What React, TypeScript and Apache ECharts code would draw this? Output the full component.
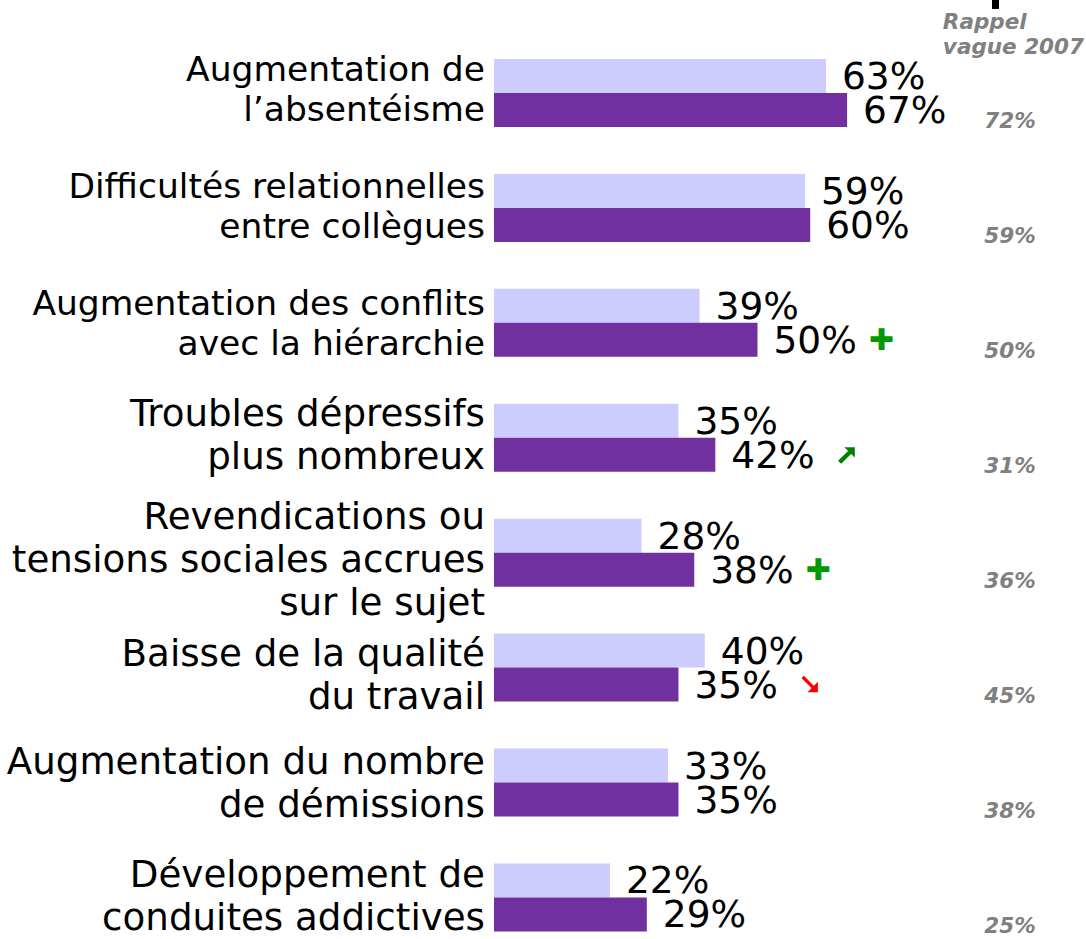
import React, { useEffect, useRef } from "react";
import * as echarts from "echarts";

const categories = [
  "Augmentation de\nl’absentéisme",
  "Difficultés relationnelles\nentre collègues",
  "Augmentation des conflits\navec la hiérarchie",
  "Troubles dépressifs\nplus nombreux",
  "Revendications ou\ntensions sociales accrues\nsur le sujet",
  "Baisse de la qualité\ndu travail",
  "Augmentation du nombre\nde démissions",
  "Développement de\nconduites addictives",
];
const previousWave = [63, 59, 39, 35, 28, 40, 33, 22];
const currentWave = [67, 60, 50, 42, 38, 35, 35, 29];
const rappel2007 = [72, 59, 50, 31, 36, 45, 38, 25];
const trendMarks = ["", "", "plus", "up", "plus", "down", "", ""];

const FONT = "DejaVu Sans, Verdana, sans-serif";

const svgUrl = (s: string) => "data:image/svg+xml;charset=utf-8," + encodeURIComponent(s);
const ARROW_UP = svgUrl(
  '<svg xmlns="http://www.w3.org/2000/svg" width="20" height="20" viewBox="0 0 20 20">' +
    '<line x1="2" y1="18" x2="13" y2="7" stroke="#008000" stroke-width="4.5"/>' +
    '<polygon points="7,2 18,2 18,13" fill="#008000"/></svg>'
);
const ARROW_DOWN = svgUrl(
  '<svg xmlns="http://www.w3.org/2000/svg" width="20" height="20" viewBox="0 0 20 20">' +
    '<line x1="2" y1="2" x2="13" y2="13" stroke="#ff0000" stroke-width="3.5"/>' +
    '<polygon points="18,7 18,18 7,18" fill="#ff0000"/></svg>'
);

// label styling (not data): larger text for some categories, small vertical nudges (px)
const LARGE_LABELS = new Set([3, 4, 5, 6, 7]);
const LABEL_NUDGE = [-4, -2, 0, -3, 6, 7, 0, -2];

export default function App() {
  const ref = useRef<HTMLDivElement>(null);
  useEffect(() => {
    document.body.style.margin = "0";
    const chart = echarts.init(ref.current!, undefined, { renderer: "svg" });
    const valueLabel = {
      show: true,
      position: "right",
      distance: 16,
      fontFamily: FONT,
      fontSize: 37.5,
      color: "#000",
      textBorderColor: "#fff",
      textBorderWidth: 1,
    };
    const rich: Record<string, any> = {
      a: { fontFamily: FONT, fontSize: 34.5, lineHeight: 40, color: "#000" },
      b: { fontFamily: FONT, fontSize: 37.2, lineHeight: 43, color: "#000" },
    };
    LABEL_NUDGE.forEach((n) => {
      const k = Math.abs(n);
      if (k > 0) rich["sp" + k] = { fontSize: 1, lineHeight: 2 * k, height: 2 * k };
    });
    const categoryFormatter = (v: string, i: number) => {
      const s = LARGE_LABELS.has(i) ? "b" : "a";
      const body = v
        .split("\n")
        .map((line) => `{${s}|${line}}`)
        .join("\n");
      const n = LABEL_NUDGE[i];
      if (n > 0) return `{sp${n}| }\n${body}`;
      if (n < 0) return `${body}\n{sp${-n}| }`;
      return body;
    };
    chart.setOption({
      animation: false,
      backgroundColor: "#ffffff",
      grid: {
        left: 494,
        width: 527,
        top: 35.5,
        height: 919.4,
        outerBoundsMode: "none",
        containLabel: false,
      },
      xAxis: { type: "value", min: 0, max: 100, show: false },
      yAxis: [
        {
          type: "category",
          data: categories,
          inverse: true,
          axisLine: { show: false },
          axisTick: { show: false },
          axisLabel: {
            margin: 9,
            fontFamily: FONT,
            fontSize: 34.5,
            color: "#000",
            formatter: categoryFormatter,
            rich,
          },
        },
        {
          type: "category",
          data: categories,
          inverse: true,
          position: "right",
          axisLine: { show: false },
          axisTick: { show: false },
          axisLabel: {
            inside: true,
            margin: 11,
            align: "center",
            formatter: (_v: string, i: number) => `{r|${rappel2007[i]}%}`,
            rich: {
              r: {
                fontFamily: FONT,
                fontSize: 21.5,
                fontWeight: "bold",
                fontStyle: "italic",
                color: "#808080",
                padding: [56, 0, 0, 0],
              },
            },
          },
        },
      ],
      graphic: [
        {
          type: "text",
          right: 2,
          top: 9,
          style: {
            text: "Rappel\nvague 2007",
            align: "center",
            fontFamily: FONT,
            fontSize: 21.5,
            fontWeight: "bold",
            fontStyle: "italic",
            fill: "#808080",
            lineHeight: 25,
          },
        },
        { type: "rect", shape: { x: 992, y: 0, width: 7, height: 9 }, style: { fill: "#000" } },
      ],
      series: [
        {
          type: "bar",
          data: previousWave,
          barWidth: 34,
          barGap: "0%",
          itemStyle: { color: "#ccccff" },
          label: { ...valueLabel, formatter: "{c}%" },
        },
        {
          type: "bar",
          data: currentWave,
          barWidth: 34,
          barGap: "0%",
          itemStyle: { color: "#7030a0" },
          label: {
            ...valueLabel,
            formatter: (p: any) => {
              const m = trendMarks[p.dataIndex];
              const base = `${p.value}%`;
              if (m === "plus") return `${base}{plus|✚}`;
              if (m === "up") return `${base}{gap|}{up|}`;
              if (m === "down") return `${base}{gap|}{down|}`;
              return base;
            },
            rich: {
              plus: { color: "#009900", fontSize: 30, fontFamily: FONT, padding: [0, 0, 0, 12] },
              gap: { width: 23, height: 18 },
              up: { width: 19, height: 19, backgroundColor: { image: ARROW_UP } },
              down: { width: 19, height: 19, backgroundColor: { image: ARROW_DOWN } },
            },
          },
        },
      ],
    });
    return () => chart.dispose();
  }, []);
  return (
    <div
      ref={ref}
      style={{ position: "fixed", left: 0, top: 0, width: 1086, height: 939 }}
    />
  );
}
